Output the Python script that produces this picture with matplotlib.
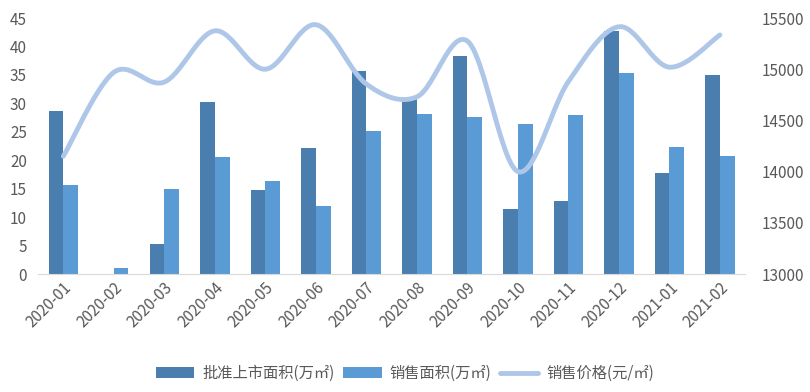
import numpy as np
import matplotlib
matplotlib.use("Agg")
import matplotlib.pyplot as plt

plt.rcParams['font.family'] = ['Noto Sans CJK SC', 'DejaVu Sans']

# months
months = ['2020-01', '2020-02', '2020-03', '2020-04', '2020-05', '2020-06', '2020-07',
          '2020-08', '2020-09', '2020-10', '2020-11', '2020-12', '2021-01', '2021-02']
# approved area (10k m2)
approved = [28.6, 0, 5.3, 30.2, 14.8, 22.1, 35.7, 31.0, 38.3, 11.5, 12.9, 42.8, 17.8, 35.0]
# sold area (10k m2)
sold = [15.7, 1.1, 15.0, 20.5, 16.4, 12.0, 25.1, 28.1, 27.6, 26.3, 27.9, 35.3, 22.3, 20.7]
# average price (yuan / m2)
price = [14150, 14970, 14875, 15375, 15000, 15435, 14855, 14730, 15275, 14000, 14880, 15415, 15020, 15335]


def smooth(xs, ys, n=30):
    # catmull-rom curve through the points, like excel's smoothed line
    xs = np.asarray(xs, float)
    ys = np.asarray(ys, float)
    px = np.concatenate([[xs[0]], xs, [xs[-1]]])
    py = np.concatenate([[ys[0]], ys, [ys[-1]]])
    outx, outy = [], []
    t = np.linspace(0, 1, n)
    for i in range(1, len(px) - 2):
        for p, out in ((px, outx), (py, outy)):
            p0, p1, p2, p3 = p[i - 1], p[i], p[i + 1], p[i + 2]
            seg = 0.5 * ((2 * p1) + (-p0 + p2) * t + (2 * p0 - 5 * p1 + 4 * p2 - p3) * t ** 2
                         + (-p0 + 3 * p1 - 3 * p2 + p3) * t ** 3)
            out.extend(seg)
    return outx, outy


x = np.arange(len(months))
w = 0.29
grey = '#595959'

fig = plt.figure(figsize=(8.1, 3.92), dpi=100)
ax = fig.add_axes([0.047, 0.301, 0.873, 0.653])

b1 = ax.bar(x - w / 2, approved, w, color='#4A7EAF', label='批准上市面积(万㎡)')
b2 = ax.bar(x + w / 2, sold, w, color='#5B9BD5', label='销售面积(万㎡)')
ax.set_ylim(0, 45)
ax.set_yticks(range(0, 46, 5))
ax.set_xlim(-0.5, len(months) - 0.5)
ax.set_xticks(x)
ax.set_xticklabels(months, rotation=45, ha='right', rotation_mode='anchor')

ax2 = ax.twinx()
sx, sy = smooth(x, price)
ln, = ax2.plot(sx, sy, color='#AEC7E8', lw=3.5, solid_capstyle='round', label='销售价格(元/㎡)')
ax2.set_ylim(13000, 15500)
ax2.set_yticks(range(13000, 15501, 500))

for a in (ax, ax2):
    for s in a.spines.values():
        s.set_visible(False)
    a.tick_params(length=0, labelsize=11, labelcolor=grey)
ax.spines['bottom'].set_visible(True)
ax.spines['bottom'].set_color('#D9D9D9')
ax.tick_params(axis='y', pad=8)
ax2.tick_params(axis='y', pad=12)

fig.legend(handles=[b1, b2, ln], loc='lower center', ncol=3, frameon=False,
           bbox_to_anchor=(0.5, -0.01), fontsize=11, labelcolor=grey,
           handlelength=2.5, columnspacing=0.6, handletextpad=0.5)

fig.savefig('out.png')
